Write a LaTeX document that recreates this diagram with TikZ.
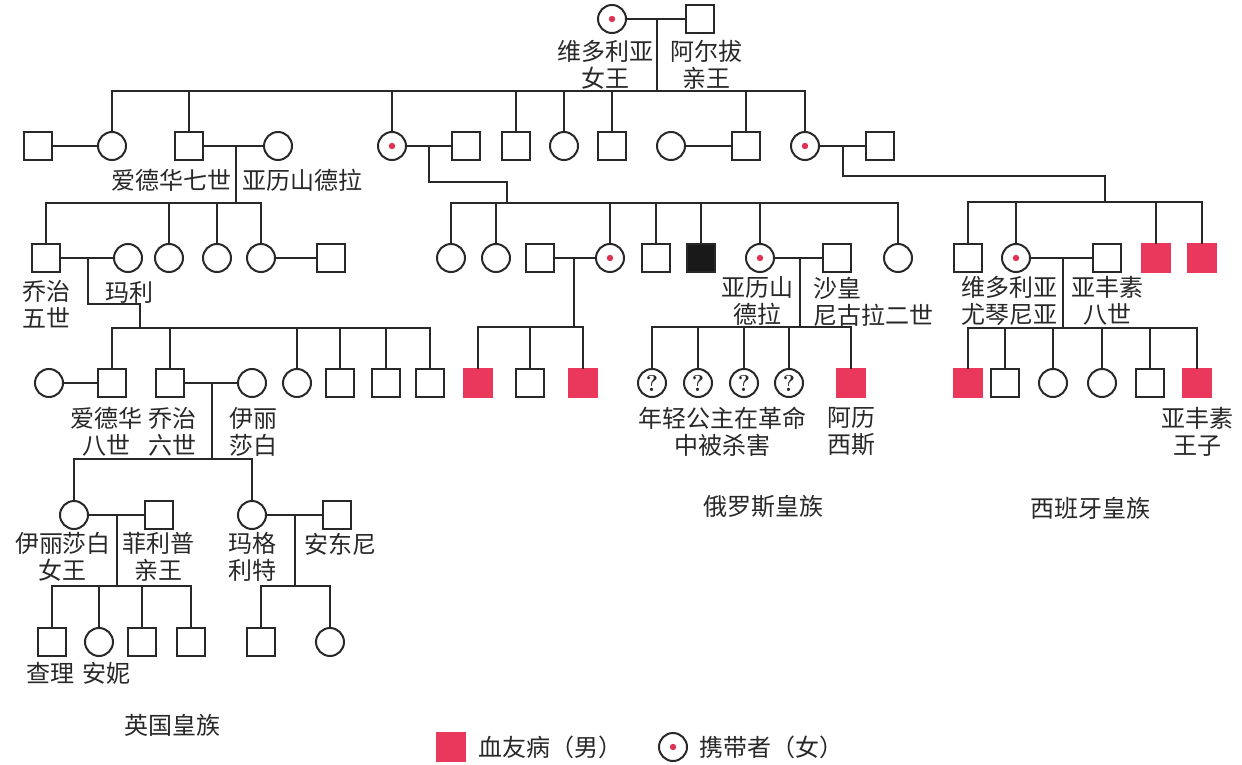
\documentclass[tikz,border=0pt]{standalone}
\usepackage{fontspec}
\newfontfamily\cjk{Noto Sans CJK SC}
\definecolor{hemo}{RGB}{234,56,92}
\definecolor{dotred}{RGB}{222,50,82}
\definecolor{ink}{RGB}{40,40,40}
\begin{document}
\begin{tikzpicture}[x=1pt,y=-1pt,line width=2pt,line cap=rect,color=ink,
  person/.style={minimum size=28pt,inner sep=0pt,draw=ink,line width=2pt},
  male/.style={person,rectangle},
  female/.style={person,circle},
  carrier/.style={female,path picture={\fill[dotred] (path picture bounding box.center) circle (3.2pt);}},
  hemo/.style={male,fill=hemo,draw=hemo},
  dead/.style={male,fill=black!90},
  unk/.style={female,font=\bfseries\fontsize{23}{23}\selectfont},
  lab/.style={font=\cjk\fontsize{24}{27}\selectfont,align=center,inner sep=0pt,text=ink}]
\useasboundingbox[fill=white] (0,0) rectangle (1242,765);

% ---------- generation 0
\node[carrier] (V) at (612,19) {};
\node[male] (A) at (700,19) {};
% ---------- generation 1
\node[male] (g1a) at (38,146) {};
\node[female] (g1b) at (112,146) {};
\node[male] (E7) at (189,146) {};
\node[female] (Alx) at (278,146) {};
\node[carrier] (Alice) at (392,146) {};
\node[male] (AliceH) at (466,146) {};
\node[male] (g1c) at (516,146) {};
\node[female] (g1d) at (564,146) {};
\node[male] (g1e) at (612,146) {};
\node[female] (g1fW) at (671,146) {};
\node[male] (g1f) at (746,146) {};
\node[carrier] (Bea) at (805,146) {};
\node[male] (BeaH) at (880,146) {};
% ---------- England 2
\node[male] (G5) at (46,258) {};
\node[female] (Mary) at (128,258) {};
\node[female] (e2a) at (169,258) {};
\node[female] (e2b) at (217,258) {};
\node[female] (e2c) at (261,258) {};
\node[male] (e2cH) at (331,258) {};
% ---------- England 3
\node[female] (E8W) at (49,383) {};
\node[male] (E8) at (112,383) {};
\node[male] (G6) at (170,383) {};
\node[female] (Eliz) at (252,383) {};
\node[female] (e3a) at (297,383) {};
\node[male] (e3b) at (340,383) {};
\node[male] (e3c) at (386,383) {};
\node[male] (e3d) at (430,383) {};
% ---------- England 4
\node[female] (E2) at (74,515) {};
\node[male] (Phil) at (159,515) {};
\node[female] (Marg) at (252,515) {};
\node[male] (Ant) at (337,515) {};
% ---------- England 5
\node[male] (e5a) at (52,642) {};
\node[female] (e5b) at (99,642) {};
\node[male] (e5c) at (142,642) {};
\node[male] (e5d) at (191,642) {};
\node[male] (e5e) at (261,642) {};
\node[female] (e5f) at (330,642) {};
% ---------- Hesse / Russia 2
\node[female] (h1) at (451,258) {};
\node[female] (h2) at (496,258) {};
\node[male] (h3H) at (540,258) {};
\node[carrier] (h3) at (610,258) {};
\node[male] (h4) at (656,258) {};
\node[dead] (h5) at (701,258) {};
\node[carrier] (Alx2) at (760,258) {};
\node[male] (Nic) at (837,258) {};
\node[female] (h7) at (898,258) {};
% ---------- Hesse / Russia 3
\node[hemo] (p1) at (478,383) {};
\node[male] (p2) at (530,383) {};
\node[hemo] (p3) at (583,383) {};
\node[unk] (r1) at (652,383) {?};
\node[unk] (r2) at (698,383) {?};
\node[unk] (r3) at (744,383) {?};
\node[unk] (r4) at (789,383) {?};
\node[hemo] (Alexei) at (851,383) {};
% ---------- Spain 2
\node[male] (sA) at (968,258) {};
\node[carrier] (Ena) at (1016,258) {};
\node[male] (A13) at (1107,258) {};
\node[hemo] (sB) at (1156,258) {};
\node[hemo] (sC) at (1202,258) {};
% ---------- Spain 3
\node[hemo] (t1) at (968,383) {};
\node[male] (t2) at (1005,383) {};
\node[female] (t3) at (1053,383) {};
\node[female] (t4) at (1102,383) {};
\node[male] (t5) at (1150,383) {};
\node[hemo] (t6) at (1197,383) {};
% ---------- legend
\node[hemo] (legH) at (451,747) {};
\node[carrier] (legC) at (673,747) {};

% ---------- coordinates
\coordinate (mV) at (657,19);   \coordinate (bV) at (657,91);
\coordinate (mE7) at (236,146); \coordinate (bE7) at (236,203);
\coordinate (mAl) at (429,146); \coordinate (kAl) at (507,182); \coordinate (bAl) at (507,203);
\coordinate (mBe) at (843,146); \coordinate (kBe) at (1105,176); \coordinate (bBe) at (1105,202);
\coordinate (mG5) at (88,258); \coordinate (kG5) at (140,304); \coordinate (bG5) at (140,328);
\coordinate (mG6) at (212,383); \coordinate (bG6) at (212,459);
\coordinate (mE2) at (117,515); \coordinate (bE2) at (117,586);
\coordinate (mMg) at (295,515); \coordinate (bMg) at (295,586);
\coordinate (mH3) at (574,258); \coordinate (bH3) at (574,327);
\coordinate (mNi) at (800,258); \coordinate (bNi) at (800,327);
\coordinate (mEn) at (1063,258); \coordinate (bEn) at (1063,328);

% ---------- marriages
\draw (V.east) -- (A.west);
\draw (g1a.east) -- (g1b.west);
\draw (E7.east) -- (Alx.west);
\draw (Alice.east) -- (AliceH.west);
\draw (g1fW.east) -- (g1f.west);
\draw (Bea.east) -- (BeaH.west);
\draw (G5.east) -- (Mary.west);
\draw (e2c.east) -- (e2cH.west);
\draw (E8W.east) -- (E8.west);
\draw (G6.east) -- (Eliz.west);
\draw (E2.east) -- (Phil.west);
\draw (Marg.east) -- (Ant.west);
\draw (h3H.east) -- (h3.west);
\draw (Alx2.east) -- (Nic.west);
\draw (Ena.east) -- (A13.west);

% ---------- descent lines
\draw (mV) -- (bV);
\draw (g1b |- bV) -- (Bea |- bV);
\foreach \n in {g1b,E7,Alice,g1c,g1d,g1e,g1f,Bea} \draw (\n.north) -- (\n |- bV);

\draw (mE7) -- (bE7);
\draw (G5 |- bE7) -- (e2c |- bE7);
\foreach \n in {G5,e2a,e2b,e2c} \draw (\n.north) -- (\n |- bE7);

\draw (mAl) |- (kAl) -- (bAl);
\draw (h1 |- bAl) -- (h7 |- bAl);
\foreach \n in {h1,h2,h3,h4,h5,Alx2,h7} \draw (\n.north) -- (\n |- bAl);

\draw (mBe) |- (kBe) -- (bBe);
\draw (sA |- bBe) -- (sC |- bBe);
\foreach \n in {sA,Ena,sB,sC} \draw (\n.north) -- (\n |- bBe);

\draw (mG5) |- (kG5) -- (bG5);
\draw (E8 |- bG5) -- (e3d |- bG5);
\foreach \n in {E8,G6,e3a,e3b,e3c,e3d} \draw (\n.north) -- (\n |- bG5);

\draw (mG6) -- (bG6);
\draw (E2 |- bG6) -- (Marg |- bG6);
\foreach \n in {E2,Marg} \draw (\n.north) -- (\n |- bG6);

\draw (mE2) -- (bE2);
\draw (e5a |- bE2) -- (e5d |- bE2);
\foreach \n in {e5a,e5b,e5c,e5d} \draw (\n.north) -- (\n |- bE2);

\draw (mMg) -- (bMg);
\draw (e5e |- bMg) -- (e5f |- bMg);
\foreach \n in {e5e,e5f} \draw (\n.north) -- (\n |- bMg);

\draw (mH3) -- (bH3);
\draw (p1 |- bH3) -- (p3 |- bH3);
\foreach \n in {p1,p2,p3} \draw (\n.north) -- (\n |- bH3);

\draw (mNi) -- (bNi);
\draw (r1 |- bNi) -- (Alexei |- bNi);
\foreach \n in {r1,r2,r3,r4,Alexei} \draw (\n.north) -- (\n |- bNi);

\draw (mEn) -- (bEn);
\draw (t1 |- bEn) -- (t6 |- bEn);
\foreach \n in {t1,t2,t3,t4,t5,t6} \draw (\n.north) -- (\n |- bEn);

% ---------- labels
\node[lab] (lV) at (605,64.5) {维多利亚\\女王};
\node[lab] (lA) at (706,64.5) {阿尔拔\\亲王};
\node[lab] (lE7) at (171,180) {爱德华七世};
\node[lab] (lAlx) at (302,180) {亚历山德拉};
\node[lab] (lG5) at (47,304.5) {乔治\\五世};
\node[lab] (lMary) at (129,292) {玛利};
\node[lab] (lE8) at (106,431.5) {爱德华\\八世};
\node[lab] (lG6) at (172,431.5) {乔治\\六世};
\node[lab] (lEliz) at (253,431.5) {伊丽\\莎白};
\node[lab] (lE2) at (63,557) {伊丽莎白\\女王};
\node[lab] (lPhil) at (158,557) {菲利普\\亲王};
\node[lab] (lMarg) at (252,557) {玛格\\利特};
\node[lab] (lAnt) at (340,544) {安东尼};
\node[lab] (lCh) at (50,673) {查理};
\node[lab] (lAn) at (106,673) {安妮};
\node[lab] (lUK) at (172,725) {英国皇族};
\node[lab] (lAlx2) at (757,301.5) {亚历山\\德拉};
\node[lab,align=left,anchor=west] (lNic) at (812,301.5) {沙皇\\尼古拉二世};
\node[lab] (lGirls) at (722.5,431.5) {年轻公主在革命\\中被杀害};
\node[lab] (lAlexei) at (851,431.5) {阿历\\西斯};
\node[lab] (lRU) at (763,507) {俄罗斯皇族};
\node[lab] (lEna) at (1009,301) {维多利亚\\尤琴尼亚};
\node[lab] (lA13) at (1107,301) {亚丰素\\八世};
\node[lab] (lPr) at (1197.5,432) {亚丰素\\王子};
\node[lab] (lES) at (1090,508) {西班牙皇族};
\node[lab,anchor=west] (lLegH) at (477,747) {血友病（男）};
\node[lab,anchor=west] (lLegC) at (698,747) {携带者（女）};
\end{tikzpicture}
\end{document}
